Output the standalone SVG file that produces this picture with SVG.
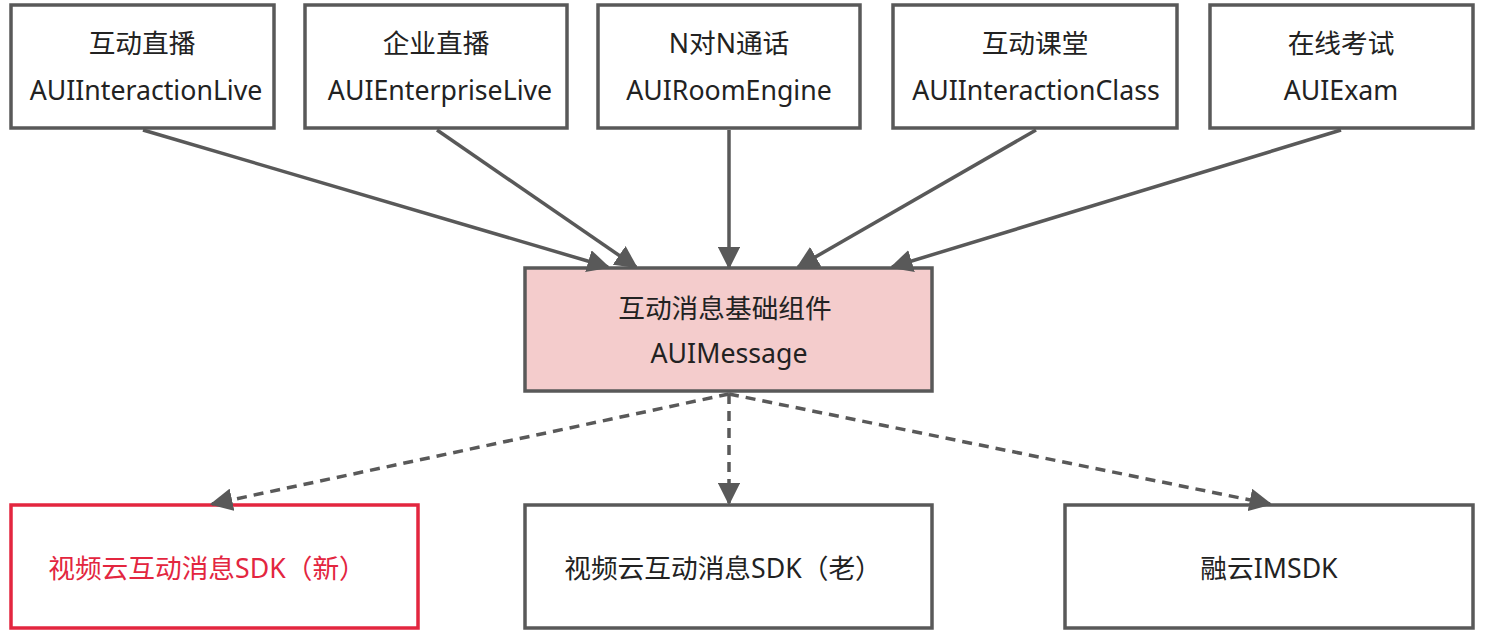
<svg xmlns="http://www.w3.org/2000/svg" width="1488" height="634" viewBox="0 0 1488 634">
<style>
.box{fill:#ffffff;stroke:#595959;stroke-width:3.5}
.main{fill:#f4cccc;stroke:#595959;stroke-width:3.5}
.red{fill:#ffffff;stroke:#e3263f;stroke-width:3.5}
text{font-family:"Noto Sans","Noto Sans CJK SC",sans-serif;font-size:26.7px;fill:#222222;text-anchor:middle}
.rt{fill:#e3263f}
.ln{stroke:#595959;stroke-width:3.5;fill:none}
.dl{stroke:#595959;stroke-width:3.5;fill:none;stroke-dasharray:10 7}
</style>
<defs>
<marker id="ah" viewBox="0 0 10 10" refX="9" refY="5" markerWidth="6.5" markerHeight="6.5" markerUnits="strokeWidth" orient="auto">
<path d="M0,0 L10,5 L0,10 Z" fill="#595959"/>
</marker>
</defs>
<g id="n1"><rect class="box" x="11" y="5" width="263" height="123"/><text x="142" y="53">互动直播</text><text x="146" y="100">AUIInteractionLive</text></g>
<g id="n2"><rect class="box" x="305" y="5" width="262" height="123"/><text x="436" y="53">企业直播</text><text x="440" y="100">AUIEnterpriseLive</text></g>
<g id="n3"><rect class="box" x="598" y="5" width="262" height="123"/><text x="729" y="53">N对N通话</text><text x="729" y="100">AUIRoomEngine</text></g>
<g id="n4"><rect class="box" x="893" y="5" width="284" height="123"/><text x="1035" y="53">互动课堂</text><text x="1036" y="100">AUIInteractionClass</text></g>
<g id="n5"><rect class="box" x="1210" y="5" width="263" height="123"/><text x="1341" y="53">在线考试</text><text x="1341" y="100">AUIExam</text></g>
<g id="n6"><rect class="main" x="525" y="268" width="407" height="123"/><text x="725" y="318">互动消息基础组件</text><text x="729" y="363">AUIMessage</text></g>
<g id="n7"><rect class="red" x="11" y="505" width="407" height="123"/><text class="rt" x="207" y="578">视频云互动消息SDK（新）</text></g>
<g id="n8"><rect class="box" x="525" y="505" width="407" height="123"/><text x="723" y="578">视频云互动消息SDK（老）</text></g>
<g id="n9"><rect class="box" x="1065" y="505" width="408" height="123"/><text x="1269" y="578">融云IMSDK</text></g>
<g id="connectors">
<line class="ln" x1="143" y1="130" x2="608" y2="267" marker-end="url(#ah)"/>
<line class="ln" x1="437" y1="130" x2="636" y2="267" marker-end="url(#ah)"/>
<line class="ln" x1="729" y1="130" x2="729" y2="267" marker-end="url(#ah)"/>
<line class="ln" x1="1036" y1="130" x2="798" y2="267" marker-end="url(#ah)"/>
<line class="ln" x1="1341" y1="130" x2="892" y2="267" marker-end="url(#ah)"/>
<line class="dl" x1="729" y1="394" x2="212" y2="504" marker-end="url(#ah)"/>
<line class="dl" x1="729" y1="394" x2="729" y2="503" marker-end="url(#ah)"/>
<line class="dl" x1="729" y1="394" x2="1270" y2="504" marker-end="url(#ah)"/>
</g>
</svg>
